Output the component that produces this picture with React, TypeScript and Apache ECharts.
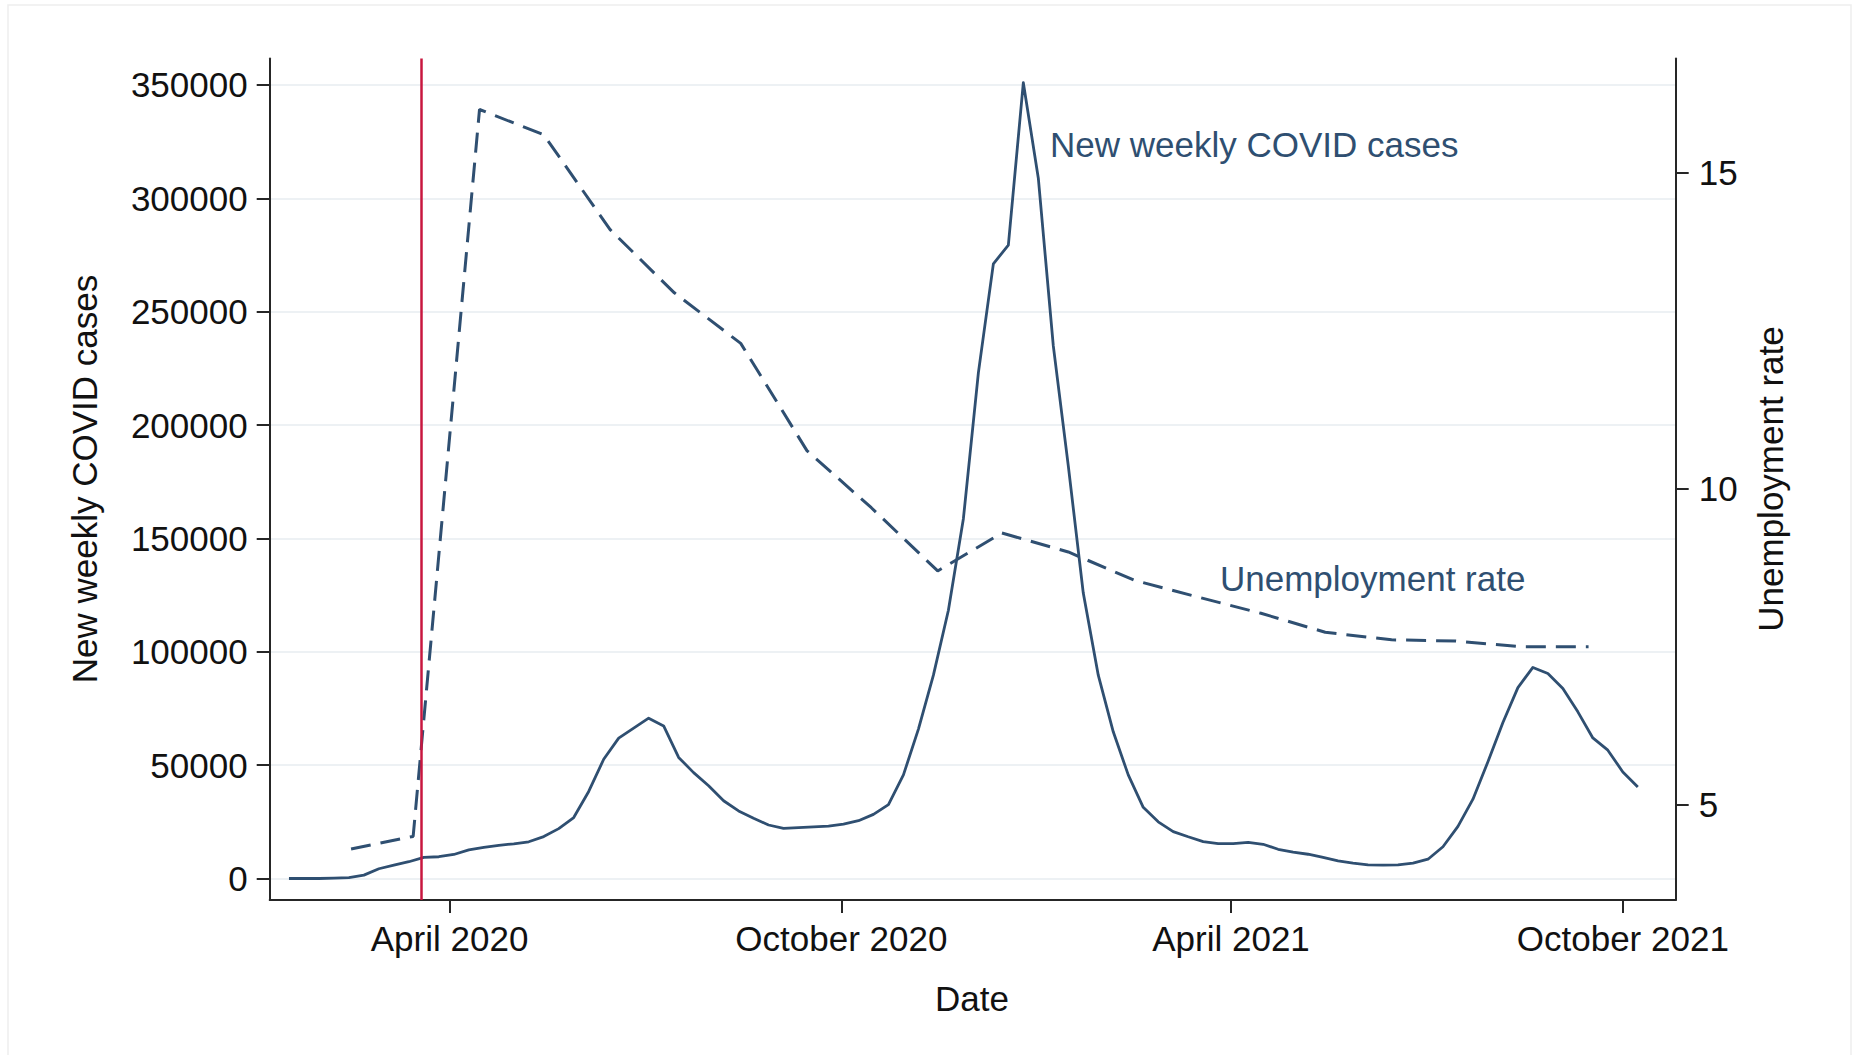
import React, { useEffect, useRef } from "react";
import * as echarts from "echarts";

// ---------- data ----------
const DAY_MS = 86400000;
const firstWeekDate = "2020-01-17";
const weeklyNewCases = [
  0, 0, 0, 150, 400, 1500, 4300, 5900, 7400, 9300,
  9600, 10600, 12600, 13700, 14600, 15300, 16200, 18500, 22000, 26900,
  38400, 52600, 61900, 66300, 70700, 67300, 53400, 46700, 40900, 34300,
  29800, 26600, 23600, 22100, 22400, 22800, 23100, 24000, 25500, 28300,
  32600, 45700, 65900, 89700, 118300, 158700, 223000, 271100, 279400, 351000,
  308900, 234900, 182000, 125900, 89700, 64700, 45700, 31400, 25000, 20700,
  18400, 16300, 15400, 15400, 15900, 15100, 12900, 11600, 10700, 9300,
  7800, 6800, 6000, 5900, 6000, 6800, 8500, 14000, 23000, 35000,
  51500, 68800, 84200, 93100, 90400, 83800, 73500, 62000, 56600, 47000,
  40400,
];
const rateDates = [
  "2020-02-15", "2020-03-15", "2020-04-15", "2020-05-15", "2020-06-15",
  "2020-07-15", "2020-08-15", "2020-09-15", "2020-10-15", "2020-11-15",
  "2020-12-15", "2021-01-15", "2021-02-15", "2021-03-15", "2021-04-15",
  "2021-05-15", "2021-06-15", "2021-07-15", "2021-08-15", "2021-09-15",
];
const unemploymentRate = [
  4.3, 4.5, 16.0, 15.6, 14.1, 13.1, 12.3, 10.6, 9.7, 8.7,
  9.3, 9.0, 8.55, 8.3, 8.03, 7.73, 7.61, 7.59, 7.5, 7.5,
];
const dateTicks = ["2020-04-01", "2020-10-01", "2021-04-01", "2021-10-01"];
const caseTicks = [0, 50000, 100000, 150000, 200000, 250000, 300000, 350000];
const rateTicks = [5, 10, 15];
const stayHomeOrderDate = "2020-03-19";
const monthNames = [
  "January", "February", "March", "April", "May", "June",
  "July", "August", "September", "October", "November", "December",
];

// ---------- helpers ----------
const toUTC = (s: string) => {
  const [y, m, d] = s.split("-").map(Number);
  return Date.UTC(y, m - 1, d);
};

const FONT = '"Liberation Sans", Arial, Helvetica, sans-serif';
const INK = "#2f4f71";
const AXIS = "#262626";
const FS = 35;

export default function App() {
  const ref = useRef<HTMLDivElement | null>(null);

  useEffect(() => {
    if (!ref.current) return;
    const chart = echarts.init(ref.current, undefined, { renderer: "svg" });

    const start = toUTC(firstWeekDate);
    const caseData = weeklyNewCases.map((v, i) => [start + i * 7 * DAY_MS, v]);
    const rateData = rateDates.map((d, i) => [toUTC(d), unemploymentRate[i]]);
    const xTickValues = dateTicks.map(toUTC);
    const xMin = Date.UTC(2020, 0, 8);
    const xMax = xMin + 656.7 * DAY_MS;

    const axisLineStyle = { color: AXIS, width: 2 };

    chart.setOption({
      animation: false,
      backgroundColor: "#ffffff",
      textStyle: { fontFamily: FONT },
      grid: { left: 269.7, right: 187.3, top: 58.5, bottom: 155, containLabel: false },
      xAxis: {
        type: "value",
        min: xMin,
        max: xMax,
        axisLine: { show: true, onZero: false, lineStyle: axisLineStyle },
        axisTick: { show: true, length: 13, lineStyle: axisLineStyle, customValues: xTickValues },
        axisLabel: {
          customValues: xTickValues,
          fontSize: FS,
          color: "#111",
          fontFamily: FONT,
          margin: 21,
          formatter: (v: number) => {
            const d = new Date(v);
            return monthNames[d.getUTCMonth()] + " " + d.getUTCFullYear();
          },
        },
        splitLine: { show: false },
      },
      yAxis: [
        {
          type: "value",
          position: "left",
          min: -9483,
          max: 361680,
          axisLine: { show: true, onZero: false, lineStyle: axisLineStyle },
          axisTick: { show: true, length: 13, lineStyle: axisLineStyle, customValues: caseTicks },
          axisLabel: {
            customValues: caseTicks,
            fontSize: FS,
            color: "#111",
            fontFamily: FONT,
            margin: 22,
            padding: [3, 0, 0, 0],
            formatter: (v: number) => String(v),
          },
          splitLine: { show: true, lineStyle: { color: "#e7edf1", width: 1.5 } },
        },
        {
          type: "value",
          position: "right",
          min: 3.494,
          max: 16.807,
          axisLine: { show: true, onZero: false, lineStyle: axisLineStyle },
          axisTick: { show: true, length: 13, lineStyle: axisLineStyle, customValues: rateTicks },
          axisLabel: {
            customValues: rateTicks,
            fontSize: FS,
            color: "#111",
            fontFamily: FONT,
            margin: 23,
            padding: [5, 0, 0, 0],
            formatter: (v: number) => String(v),
          },
          splitLine: { show: false },
        },
      ],
      series: [
        {
          name: "New weekly COVID cases",
          type: "line",
          yAxisIndex: 0,
          data: caseData,
          showSymbol: false,
          symbol: "none",
          lineStyle: { color: INK, width: 2.8, join: "round" },
          z: 3,
          markLine: {
            silent: true,
            symbol: ["none", "none"],
            label: { show: false },
            lineStyle: { color: "#c8173f", width: 2.5, type: "solid" },
            data: [{ xAxis: toUTC(stayHomeOrderDate) }],
          },
        },
        {
          name: "Unemployment rate",
          type: "line",
          yAxisIndex: 1,
          data: rateData,
          showSymbol: false,
          symbol: "none",
          lineStyle: { color: INK, width: 3, type: [20, 10] },
          z: 2,
        },
      ],
      graphic: [
        {
          type: "polyline",
          silent: true,
          shape: { points: [[8, 1055], [8, 5], [1851, 5], [1851, 1055]] },
          style: { stroke: "#eeeeee", lineWidth: 1.5, fill: null },
        },
        {
          type: "text",
          x: 84,
          y: 479,
          rotation: Math.PI / 2,
          style: {
            text: "New weekly COVID cases",
            fontSize: FS,
            fontFamily: FONT,
            fill: "#111",
            align: "center",
            verticalAlign: "middle",
          },
        },
        {
          type: "text",
          x: 1770,
          y: 479,
          rotation: Math.PI / 2,
          style: {
            text: "Unemployment rate",
            fontSize: FS,
            fontFamily: FONT,
            fill: "#111",
            align: "center",
            verticalAlign: "middle",
          },
        },
        {
          type: "text",
          x: 972,
          y: 998,
          style: {
            text: "Date",
            fontSize: FS,
            fontFamily: FONT,
            fill: "#111",
            align: "center",
            verticalAlign: "middle",
          },
        },
        {
          type: "text",
          x: 1050,
          y: 144,
          style: {
            text: "New weekly COVID cases",
            fontSize: FS,
            fontFamily: FONT,
            fill: INK,
            align: "left",
            verticalAlign: "middle",
          },
        },
        {
          type: "text",
          x: 1220,
          y: 578,
          style: {
            text: "Unemployment rate",
            fontSize: FS,
            fontFamily: FONT,
            fill: INK,
            align: "left",
            verticalAlign: "middle",
          },
        },
      ],
    });

    return () => chart.dispose();
  }, []);

  return (
    <div
      ref={ref}
      style={{ position: "fixed", left: 0, top: 0, width: 1863, height: 1055, background: "#fff" }}
    />
  );
}
